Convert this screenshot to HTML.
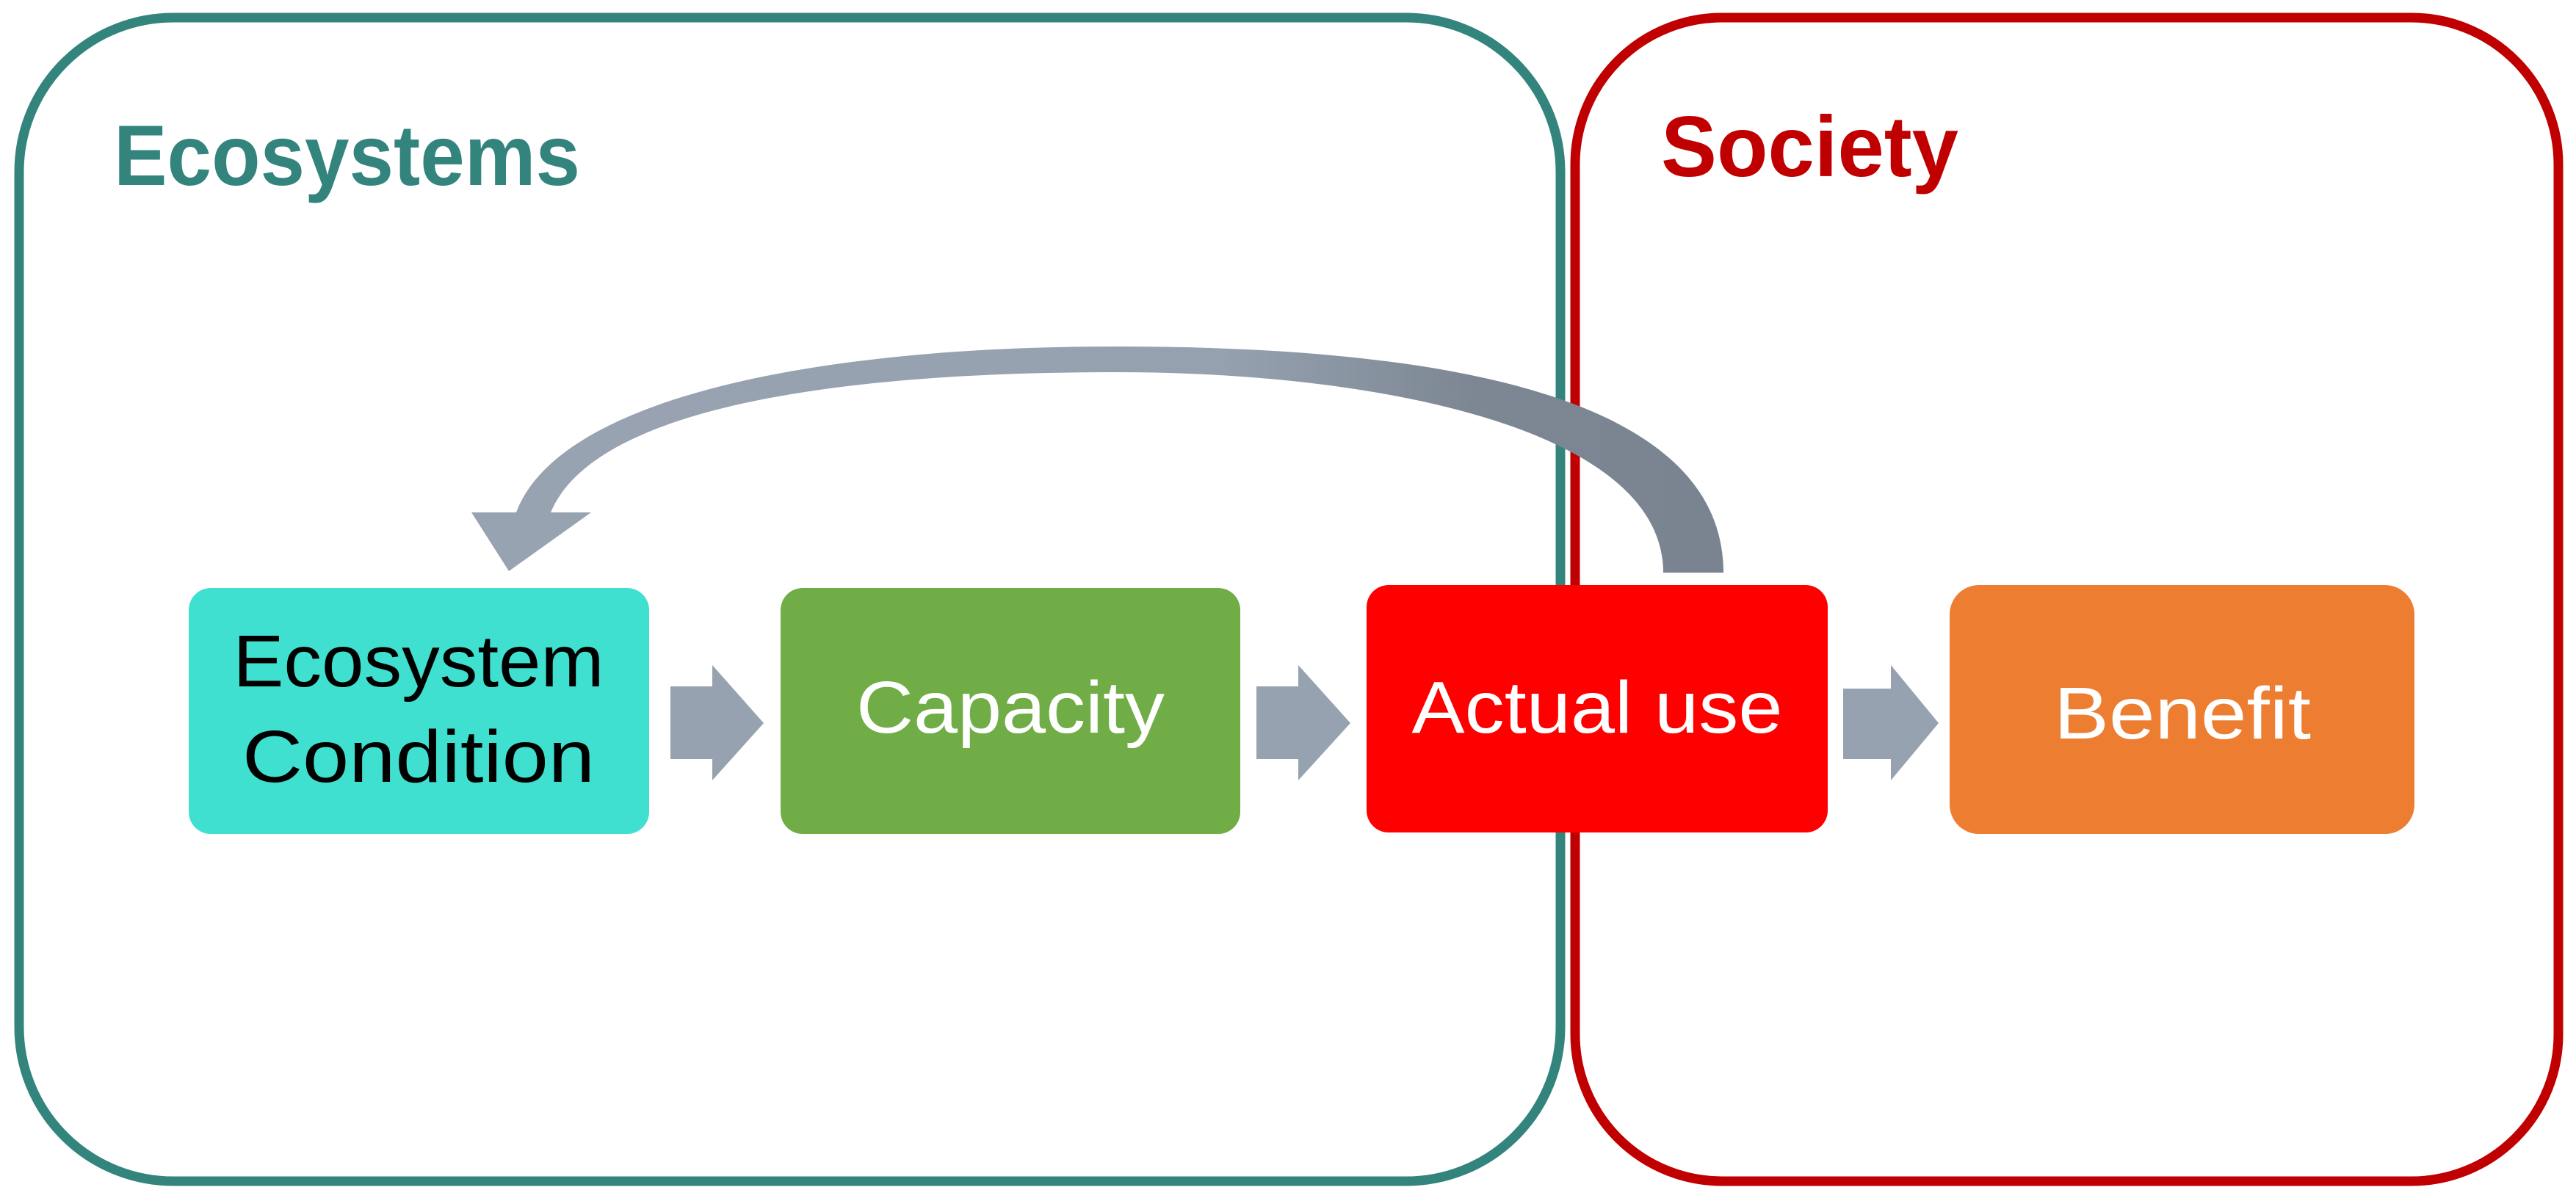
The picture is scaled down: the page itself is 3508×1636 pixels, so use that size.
<!DOCTYPE html>
<html><head><meta charset="utf-8"><style>html,body{margin:0;padding:0;background:#fff}svg{display:block}</style></head>
<body>
<svg width="3508" height="1636" viewBox="0 0 3508 1636" xmlns="http://www.w3.org/2000/svg">
<defs>
<linearGradient id="g" x1="0" y1="0" x2="1" y2="0">
<stop offset="0" stop-color="#98a3b1"/><stop offset="0.6" stop-color="#96a1af"/><stop offset="0.8" stop-color="#7d8794"/><stop offset="1" stop-color="#7a8490"/>
</linearGradient>
</defs>
<rect x="26" y="24" width="2099" height="1585" rx="210" ry="210" fill="none" stroke="#34847e" stroke-width="13"/>
<rect x="2145" y="24" width="1339" height="1585" rx="200" ry="200" fill="none" stroke="#c00000" stroke-width="13"/>
<text x="155" y="252" font-family="Liberation Sans, sans-serif" font-weight="bold" font-size="117" fill="#34847e" textLength="635" lengthAdjust="spacingAndGlyphs">Ecosystems</text>
<text x="2262" y="240" font-family="Liberation Sans, sans-serif" font-weight="bold" font-size="117" fill="#c00000" textLength="405" lengthAdjust="spacingAndGlyphs">Society</text>
<path d="M2347 780 C2347 520 1900 472 1520 472 C1100 472 760 545 703 698 L642 698 L693 778 L805 698 L750 698 C805 565 1100 507 1520 507 C1880 507 2265 585 2265 780 Z" fill="url(#g)"/>
<rect x="257" y="801" width="627" height="335" rx="30" fill="#40e0d0"/>
<rect x="1063" y="801" width="626" height="335" rx="30" fill="#70ad47"/>
<rect x="1861" y="797" width="628" height="337" rx="30" fill="#ff0000"/>
<rect x="2655" y="797" width="633" height="339" rx="40" fill="#ed7d31"/>
<path d="M913 935 L970 935 L970 906 L1040 985 L970 1063 L970 1034 L913 1034 Z" fill="#97a2b0"/>
<path d="M1711 935 L1768 935 L1768 906 L1839 985 L1768 1063 L1768 1034 L1711 1034 Z" fill="#97a2b0"/>
<path d="M2510 938 L2575 938 L2575 906 L2640 985 L2575 1063 L2575 1034 L2510 1034 Z" fill="#97a2b0"/>
<g font-family="Liberation Sans, sans-serif" font-size="100" text-anchor="middle">
<text x="570" y="935" fill="#000" textLength="505" lengthAdjust="spacingAndGlyphs">Ecosystem</text>
<text x="570" y="1065" fill="#000" textLength="480" lengthAdjust="spacingAndGlyphs">Condition</text>
<text x="1376" y="998" fill="#fff" textLength="420" lengthAdjust="spacingAndGlyphs">Capacity</text>
<text x="2175" y="998" fill="#fff" textLength="505" lengthAdjust="spacingAndGlyphs">Actual use</text>
<text x="2972" y="1006" fill="#fff" textLength="350" lengthAdjust="spacingAndGlyphs">Benefit</text>
</g>
</svg>
</body></html>
